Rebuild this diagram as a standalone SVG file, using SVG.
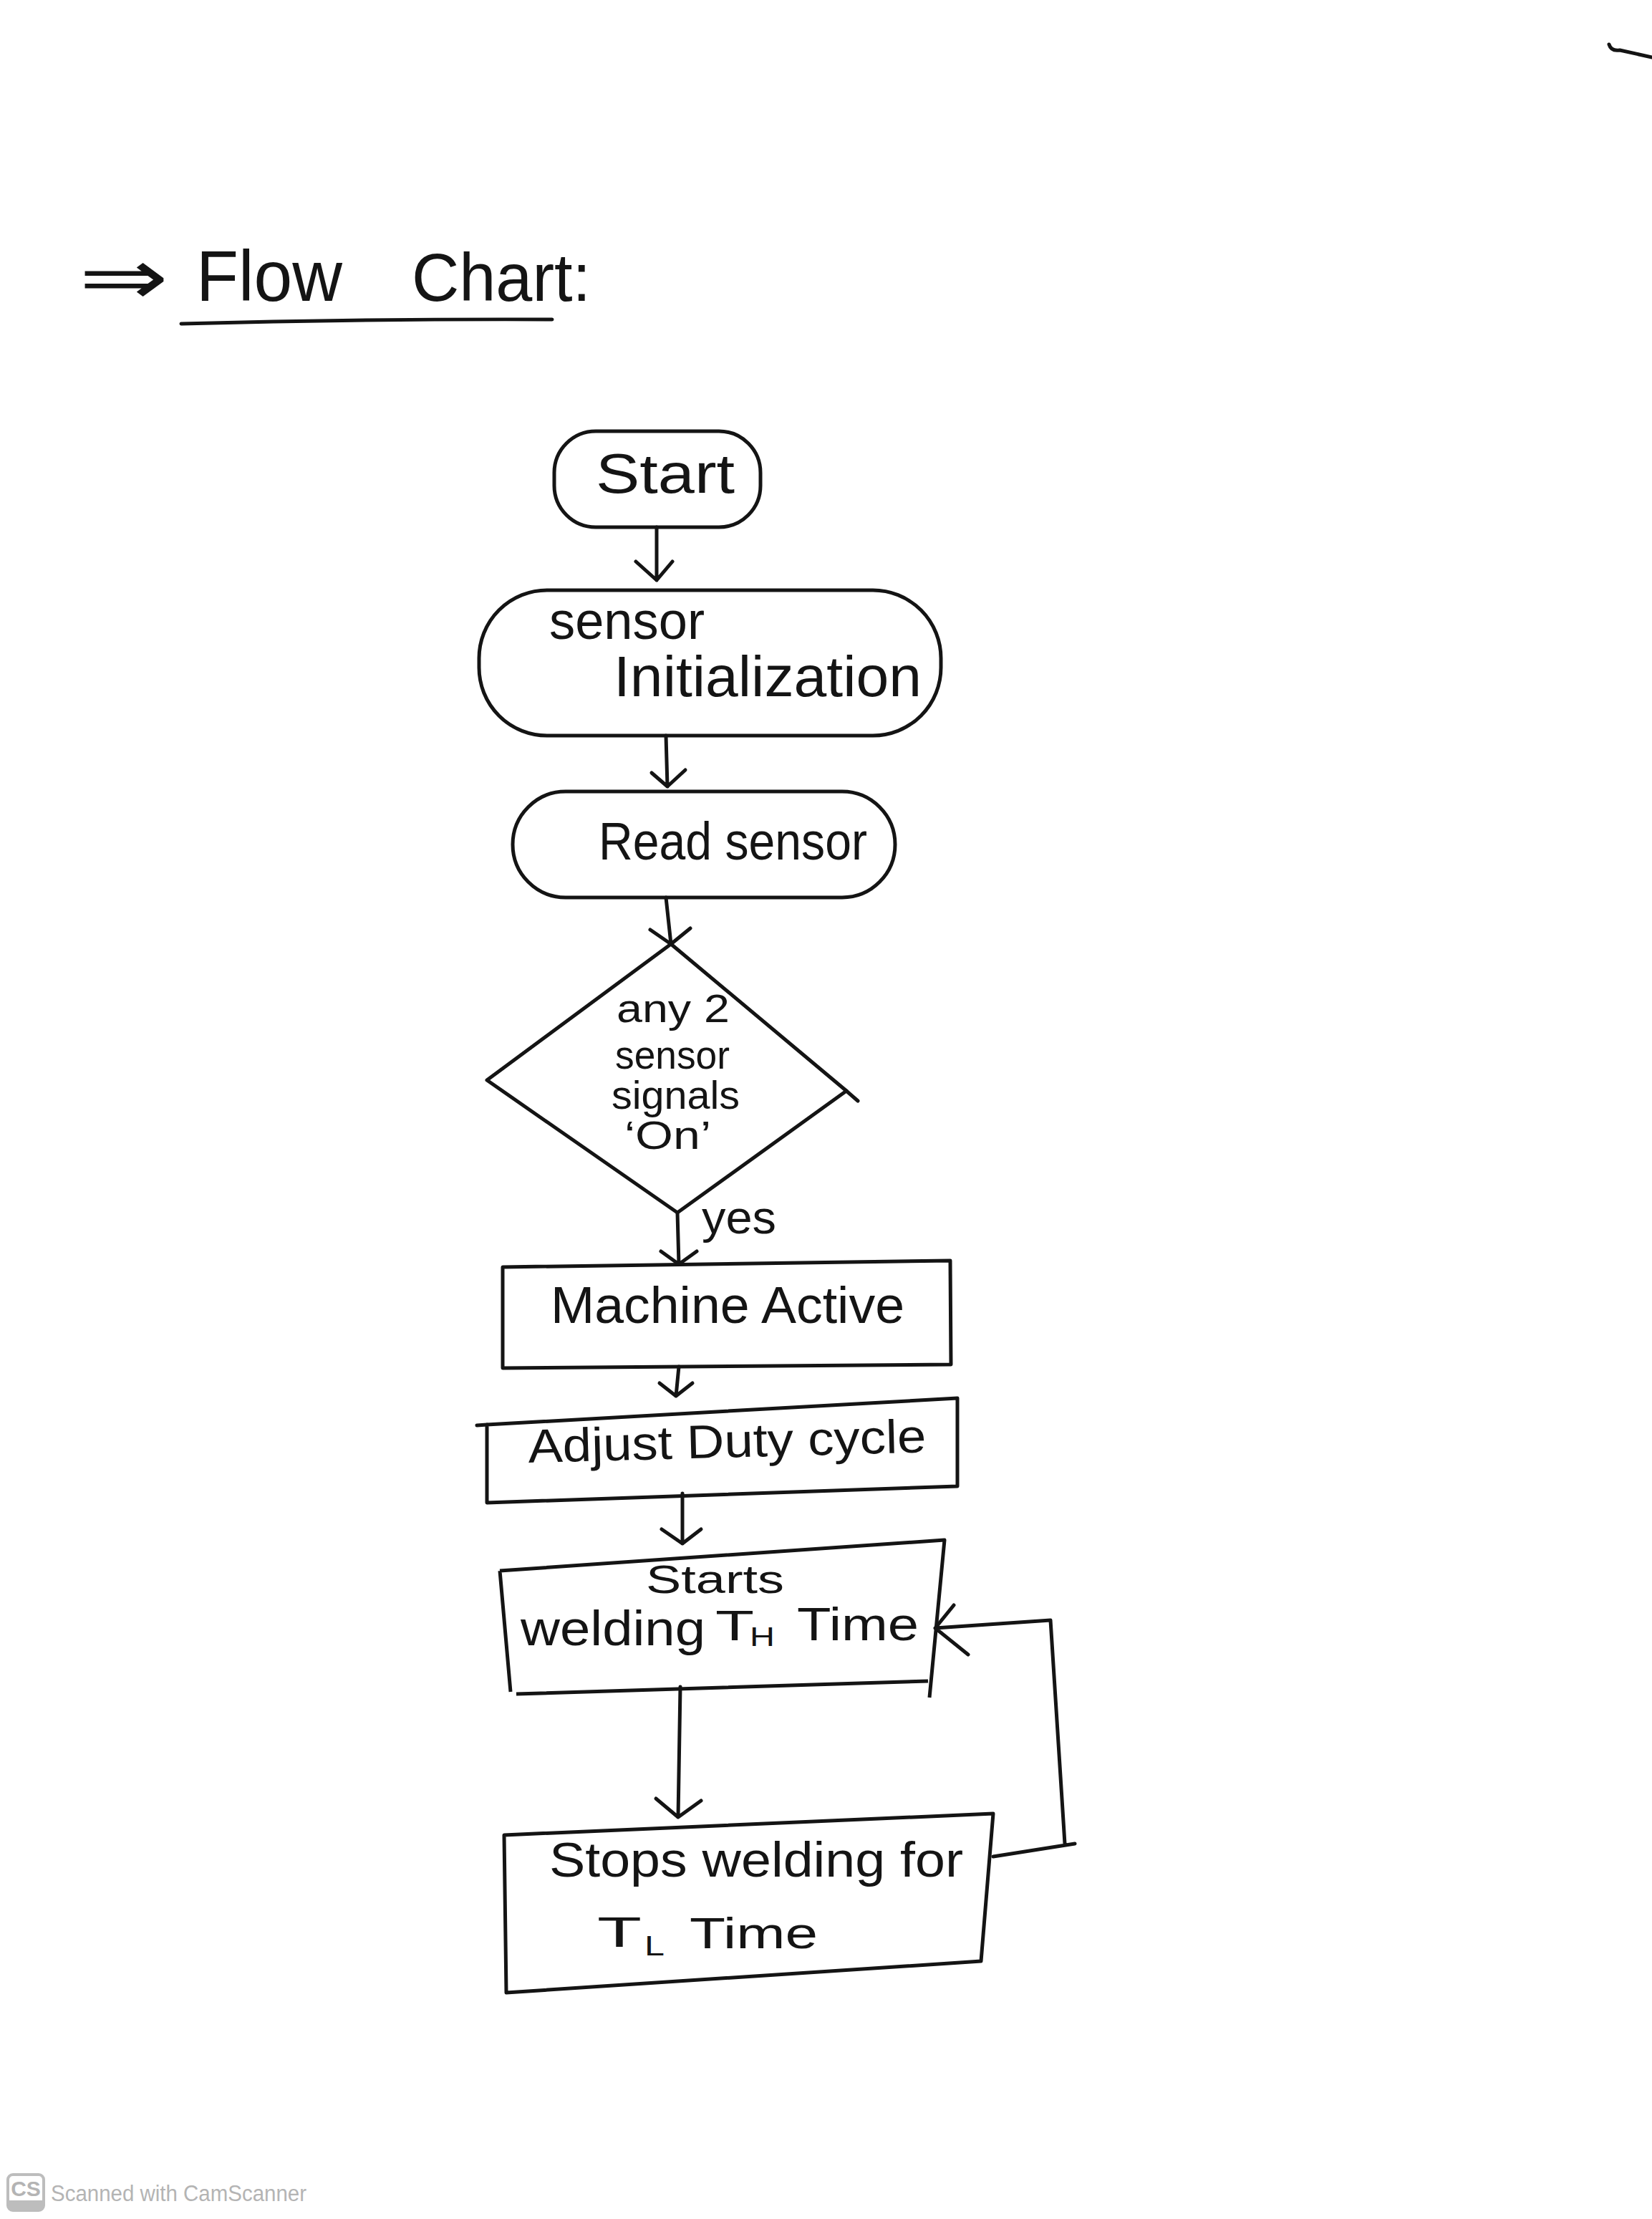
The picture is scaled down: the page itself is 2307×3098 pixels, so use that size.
<svg xmlns="http://www.w3.org/2000/svg" width="2307" height="3098" viewBox="0 0 2307 3098">
<style>
.ln{fill:none;stroke:#141414;stroke-width:5;stroke-linecap:round;stroke-linejoin:round}
.box{fill:none;stroke:#141414;stroke-width:5;stroke-linejoin:round}
.t{font-family:"Liberation Sans",Arial,sans-serif;fill:#141414}
.foot{font-family:"Liberation Sans",Arial,sans-serif;fill:#b4b4b4}
</style>
<rect x="0" y="0" width="2307" height="3098" fill="#ffffff"/>

<g id="title">
  <text class="t" transform="translate(110,425) scale(1.5,1.1)" font-size="100" style="font-family:'DejaVu Sans',sans-serif">⇒</text>
  <text class="t" x="274" y="420" font-size="100" textLength="204" lengthAdjust="spacingAndGlyphs">Flow</text>
  <text class="t" x="575" y="420" font-size="95" textLength="250" lengthAdjust="spacingAndGlyphs">Chart:</text>
  <path class="ln" d="M253,452 Q510,445 771,446"/>
</g>

<g id="start">
  <rect class="box" x="774" y="602" width="288" height="134" rx="58"/>
  <text class="t" x="832" y="688" font-size="78" textLength="194" lengthAdjust="spacingAndGlyphs">Start</text>
</g>

<g id="sensor-init">
  <rect class="box" x="669" y="824" width="645" height="203" rx="95"/>
  <text class="t" x="767" y="892" font-size="75" textLength="217" lengthAdjust="spacingAndGlyphs">sensor</text>
  <text class="t" x="857" y="972" font-size="80" textLength="430" lengthAdjust="spacingAndGlyphs">Initialization</text>
</g>

<g id="read-sensor">
  <rect class="box" x="716" y="1105" width="534" height="148" rx="74"/>
  <text class="t" x="836" y="1200" font-size="74" textLength="375" lengthAdjust="spacingAndGlyphs">Read sensor</text>
</g>

<g id="decision">
  <polygon class="box" points="937,1318 1182,1523 946,1693 680,1508"/>
  <path class="ln" d="M1182,1523 L1198,1537"/>
  <text class="t" x="861" y="1427" font-size="55" textLength="158" lengthAdjust="spacingAndGlyphs">any 2</text>
  <text class="t" x="859" y="1492" font-size="55" textLength="160" lengthAdjust="spacingAndGlyphs">sensor</text>
  <text class="t" x="854" y="1548" font-size="55" textLength="179" lengthAdjust="spacingAndGlyphs">signals</text>
  <text class="t" x="872" y="1604" font-size="55" textLength="121" lengthAdjust="spacingAndGlyphs">‘On’</text>
</g>

<g id="machine-active">
  <polygon class="box" points="702,1769 1327,1760 1328,1905 702,1910"/>
  <text class="t" x="769" y="1847" font-size="72" textLength="494" lengthAdjust="spacingAndGlyphs">Machine Active</text>
</g>

<g id="adjust-duty">
  <polygon class="box" points="680,1989 1337,1952 1337,2075 680,2098"/>
  <path class="ln" d="M666,1990 L680,1989"/>
  <text class="t" x="738" y="2042" font-size="66" textLength="556" lengthAdjust="spacingAndGlyphs" transform="rotate(-1.5 738 2042)">Adjust Duty cycle</text>
</g>

<g id="starts-welding">
  <path class="box" d="M698,2193 L1319,2150 L1298,2370 M698,2193 L713,2362 M721,2365 L1296,2347"/>
  <text class="t" x="902" y="2224" font-size="56" textLength="193" lengthAdjust="spacingAndGlyphs">Starts</text>
  <text class="t" x="727" y="2297" font-size="68" textLength="258" lengthAdjust="spacingAndGlyphs">welding</text>
  <text class="t" x="999" y="2290" font-size="60" textLength="54" lengthAdjust="spacingAndGlyphs">T</text>
  <text class="t" x="1047" y="2298" font-size="36" textLength="35" lengthAdjust="spacingAndGlyphs">H</text>
  <text class="t" x="1113" y="2290" font-size="64" textLength="170" lengthAdjust="spacingAndGlyphs">Time</text>
</g>

<g id="stops-welding">
  <polygon class="box" points="704,2562 1387,2532 1370,2738 707,2782"/>
  <text class="t" x="767" y="2620" font-size="68" textLength="578" lengthAdjust="spacingAndGlyphs">Stops welding for</text>
  <text class="t" x="834" y="2718" font-size="60" textLength="62" lengthAdjust="spacingAndGlyphs">T</text>
  <text class="t" x="900" y="2730" font-size="38" textLength="28" lengthAdjust="spacingAndGlyphs">L</text>
  <text class="t" x="963" y="2720" font-size="62" textLength="179" lengthAdjust="spacingAndGlyphs">Time</text>
</g>

<g id="connectors">
  <path class="ln" d="M917,736 L917,810 M888,784 L917,810 L939,784"/>
  <path class="ln" d="M930,1027 L932,1098 M910,1079 L932,1098 L957,1075"/>
  <path class="ln" d="M930,1253 L937,1318 M908,1298 L937,1318 L964,1296"/>
  <path class="ln" d="M946,1693 L948,1765 M923,1747 L948,1765 L973,1747"/>
  <text class="t" x="980" y="1722" font-size="65" textLength="104" lengthAdjust="spacingAndGlyphs">yes</text>
  <path class="ln" d="M948,1908 L944,1949 M921,1931 L944,1949 L967,1931"/>
  <path class="ln" d="M953,2085 L953,2155 M924,2135 L953,2155 L979,2135"/>
  <path class="ln" d="M950,2355 L947,2537 M916,2511 L947,2537 L979,2514"/>
  <path class="ln" d="M1387,2592 L1501,2574 M1487,2574 L1467,2262 L1306,2273 M1332,2241 L1306,2273 L1352,2310"/>
</g>

<path class="ln" d="M2247,62 Q2250,72 2262,70 L2307,80" stroke="#1c2a33"/>

<g id="footer">
  <rect x="11" y="3036" width="50" height="50" rx="7" fill="none" stroke="#bdbdbd" stroke-width="4"/>
  <path d="M11,3072 L61,3072 L61,3079 Q61,3086 54,3086 L18,3086 Q11,3086 11,3079 Z" fill="#bdbdbd"/>
  <text class="foot" x="36" y="3066" font-size="30" font-weight="bold" text-anchor="middle" fill="#aaaaaa">CS</text>
  <text class="foot" x="71" y="3073" font-size="31" textLength="357" lengthAdjust="spacingAndGlyphs">Scanned with CamScanner</text>
</g>
</svg>
